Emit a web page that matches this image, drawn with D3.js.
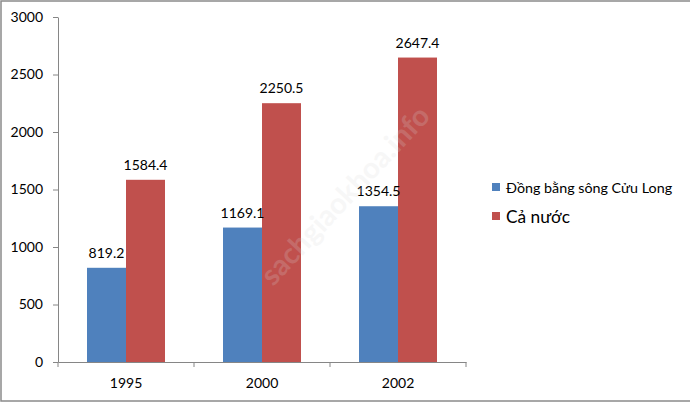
<!DOCTYPE html>
<html><head><meta charset="utf-8">
<script src="https://cdn.jsdelivr.net/npm/d3@7"></script>
<style>
html,body{margin:0;padding:0;background:#fff;}
svg{display:block;font-family:Lato,"Open Sans",sans-serif;}
</style></head>
<body>
<svg id="c" width="690" height="404"></svg>
<script>
const categories = ["1995", "2000", "2002"];
const seriesNames = ["Đồng bằng sông Cửu Long", "Cả nước"];
const dbsclValues = [819.2, 1169.1, 1354.5];
const caNuocValues = [1584.4, 2250.5, 2647.4];
const yTicks = [0, 500, 1000, 1500, 2000, 2500, 3000];
const colors = ["#4F81BD", "#C0504D"];

const svg = d3.select("#c");
// frame
svg.append("rect").attr("x",1).attr("y",1).attr("width",720).attr("height",400)
  .attr("fill","none").attr("stroke","#8a8a8a").attr("stroke-width",1.5);

const y = d3.scaleLinear().domain([0,3000]).range([362,17]);
const x = d3.scaleBand().domain(categories).range([58,466]).padding(0);
const x1 = d3.scaleBand().domain(seriesNames).range([0,x.bandwidth()]).paddingInner(0).paddingOuter(0.744);

// y axis
const yAxis = svg.append("g").attr("transform","translate(58,0)")
  .call(d3.axisLeft(y).tickValues(yTicks).tickSize(5).tickPadding(10).tickSizeOuter(0).tickFormat(d3.format("d")));
yAxis.select(".domain").attr("stroke","#868686");
yAxis.selectAll(".tick line").attr("stroke","#868686");
yAxis.selectAll(".tick text").attr("font-size",14).attr("fill","#000").attr("font-family","Lato,sans-serif");

// x axis
const xAxis = svg.append("g").attr("transform","translate(0,362)")
  .call(d3.axisBottom(x).tickSize(0).tickPadding(16).tickSizeOuter(0));
xAxis.select(".domain").attr("stroke","#868686");
xAxis.selectAll(".tick text").attr("font-size",14).attr("fill","#000").attr("font-family","Lato,sans-serif");
const bounds = categories.map(c => x(c)).concat([x.range()[1]]);
xAxis.selectAll("line.bt").data(bounds).enter().append("line").attr("class","bt")
  .attr("x1",d=>d).attr("x2",d=>d).attr("y1",0).attr("y2",5).attr("stroke","#868686");

// bars
const data = categories.map((c,i)=>({cat:c, vals:[dbsclValues[i], caNuocValues[i]]}));
const groups = svg.append("g").selectAll("g").data(data).enter().append("g")
  .attr("transform",d=>`translate(${x(d.cat)},0)`);
groups.selectAll("rect").data(d=>d.vals.map((v,j)=>({name:seriesNames[j], v, j}))).enter().append("rect")
  .attr("x",d=>x1(d.name)).attr("width",x1.bandwidth())
  .attr("y",d=>y(d.v)).attr("height",d=>y(0)-y(d.v)).attr("fill",d=>colors[d.j]);
groups.selectAll("text").data(d=>d.vals.map((v,j)=>({name:seriesNames[j], v, j}))).enter().append("text")
  .attr("x",d=>x1(d.name)+x1.bandwidth()/2).attr("y",d=>y(d.v)-10)
  .attr("text-anchor","middle").attr("font-size",14).attr("fill","#000")
  .text(d=>d.v.toFixed(1));

// watermark (on top, faint)
svg.append("text").attr("transform","translate(347,197) rotate(-47)")
  .attr("text-anchor","middle").attr("dominant-baseline","middle")
  .attr("font-size",29).attr("font-weight","bold").attr("fill","#d8d8d8").attr("opacity",0.2)
  .text("sachgiaokhoa.info");

// legend
const legend = svg.append("g");
const lg = [{n:seriesNames[0], c:colors[0], y:187, fs:14.3}, {n:seriesNames[1], c:colors[1], y:216, fs:17.3}];
legend.selectAll("rect").data(lg).enter().append("rect")
  .attr("x",492).attr("y",d=>d.y-4).attr("width",8).attr("height",8).attr("fill",d=>d.c);
legend.selectAll("text").data(lg).enter().append("text")
  .attr("x",506).attr("y",d=>d.y).attr("dominant-baseline","central")
  .attr("font-size",d=>d.fs).attr("fill","#000").text(d=>d.n);
</script>
</body></html>
